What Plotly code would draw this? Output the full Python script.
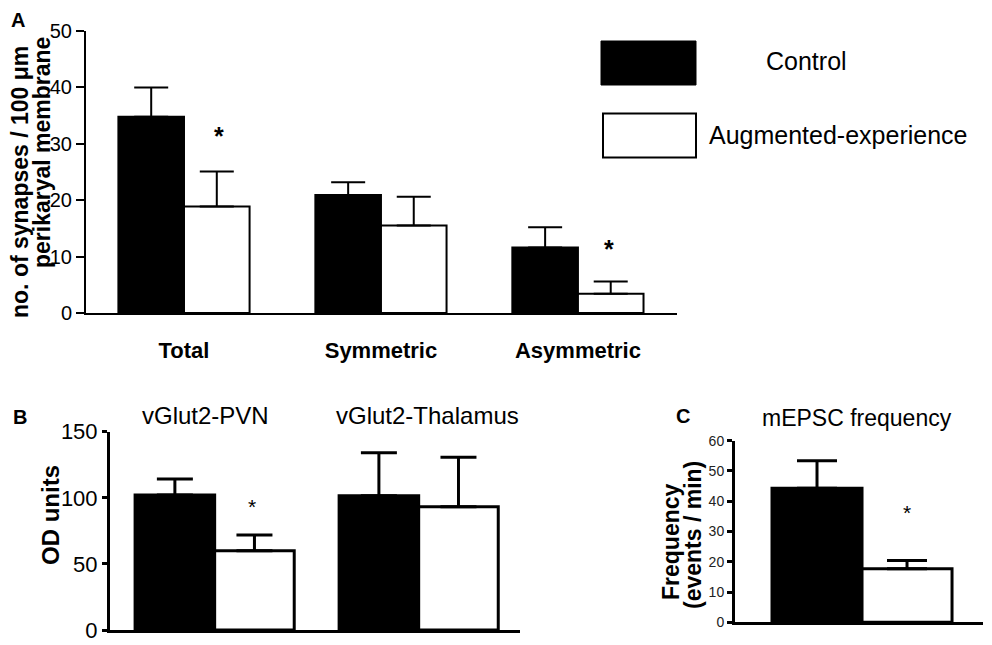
import plotly.graph_objects as go

# ---------------- data ----------------
cats_a = ["Total", "Symmetric", "Asymmetric"]
ctrl_a = [34.8, 20.9, 11.6]
ctrl_a_err = [5.2, 2.3, 3.6]
aug_a = [18.9, 15.5, 3.4]
aug_a_err = [6.2, 5.1, 2.2]

cats_b = ["vGlut2-PVN", "vGlut2-Thalamus"]
ctrl_b = [102.1, 101.6]
ctrl_b_err = [12.1, 32.5]
aug_b = [60.0, 93.3]
aug_b_err = [11.9, 37.3]

cats_c = ["Control", "Augmented-experience"]
ctrl_c = [44.3]
ctrl_c_err = [9.1]
aug_c = [17.7]
aug_c_err = [2.7]

ticks_a = [0, 10, 20, 30, 40, 50]
ticks_b = [0, 50, 100, 150]
ticks_c = [0, 10, 20, 30, 40, 50, 60]

W, H = 992, 645
FONT = "Arial, Liberation Sans, sans-serif"


def px(x):
    return x / W


def py(y):
    return 1 - y / H


fig = go.Figure()


def add_bar(y, x, err, color, xa, ya, offset, width, thick, cap, lw):
    fig.add_trace(go.Bar(
        x=x, y=y, xaxis=xa, yaxis=ya,
        offset=offset, width=width,
        marker=dict(color=color, line=dict(color="black", width=lw)),
        error_y=dict(type="data", symmetric=False, array=err,
                     arrayminus=[0] * len(err), color="black",
                     thickness=thick, width=cap),
        showlegend=False, hoverinfo="skip",
    ))


# Panel A
add_bar(ctrl_a, cats_a, ctrl_a_err, "black", "x", "y", -0.333, 0.333, 2, 17, 2)
add_bar(aug_a, cats_a, aug_a_err, "white", "x", "y", 0.0, 0.333, 2, 17, 2)
# Panel B
add_bar(ctrl_b, cats_b, ctrl_b_err, "black", "x2", "y2", -0.39, 0.39, 3, 18, 3)
add_bar(aug_b, cats_b, aug_b_err, "white", "x2", "y2", 0.0, 0.39, 3, 18, 3)
# Panel C
add_bar(ctrl_c, cats_c[:1], ctrl_c_err, "black", "x3", "y3", -0.5, 1.0, 3, 20, 3)
add_bar(aug_c, cats_c[1:], aug_c_err, "white", "x3", "y3", -0.5, 1.0, 3, 20, 3)


def yax(domain, rng, ticks, size, lw, tlen, color="black"):
    return dict(domain=domain, range=rng, tickvals=ticks, showgrid=False,
                zeroline=False, showline=True, linecolor="black", linewidth=lw,
                ticks="outside", ticklen=tlen, tickwidth=lw, tickcolor="black",
                tickfont=dict(family=FONT, size=size, color=color),
                automargin=False, fixedrange=True)


def xax(domain, rng, cats, anchor, lw, showlabels=False):
    return dict(domain=domain, range=rng, type="category",
                categoryorder="array", categoryarray=cats,
                anchor=anchor, showgrid=False, zeroline=False,
                showline=True, linecolor="black", linewidth=lw, ticks="",
                showticklabels=showlabels, automargin=False, fixedrange=True)


fig.update_layout(
    width=W, height=H,
    margin=dict(l=0, r=0, t=0, b=0, pad=0, autoexpand=False),
    paper_bgcolor="white", plot_bgcolor="white", barmode="overlay",
    font=dict(family=FONT, color="black"),
    xaxis=dict(**xax([px(86), px(677)], [-0.4975, 2.503], cats_a, "y", 2, True),
               tickfont=dict(family=FONT, size=22, color="black", weight="bold"),
               ticklabelstandoff=17),
    yaxis=yax([py(313), py(31)], [0, 50], ticks_a, 20, 2, 8),
    xaxis2=xax([px(110), px(520)], [-0.513, 1.4966], cats_b, "y2", 3),
    yaxis2=dict(**yax([py(630), py(431.7)], [0, 150], ticks_b, 22, 3, 5), anchor="x2"),
    xaxis3=xax([px(735), px(983)], [-0.911, 1.844], cats_c, "y3", 3),
    yaxis3=dict(**yax([py(622.3), py(440.7)], [0, 60], ticks_c, 14, 3, 5, "#222"), anchor="x3"),
)

ann = []


def text(x, y, s, size, bold=False, angle=0, xanchor="center", **kw):
    ann.append(dict(x=x, y=y, xref=kw.pop("xref", "paper"), yref=kw.pop("yref", "paper"),
                    text=s, showarrow=False, textangle=angle, xanchor=xanchor,
                    yanchor="middle",
                    font=dict(family=FONT, size=size, color="black",
                              weight="bold" if bold else "normal"), **kw))


# panel letters
text(px(18), py(20), "A", 20, True)
text(px(20), py(417), "B", 20, True)
text(px(683), py(416), "C", 20, True)

# y titles
text(px(20), py(182), "no. of synapses / 100 \u03bcm", 23, True, -90)
text(px(42), py(153), "perikaryal membrane", 23, True, -90)
text(px(50), py(515), "OD units", 24, True, -90)
text(px(671), py(542), "Frequency", 23, True, -90)
text(px(693), py(535), "(events / min)", 23, True, -90)

# panel titles
text(cats_b[0], py(415), cats_b[0], 24, xref="x2", xshift=-9)
text(cats_b[1], py(415), cats_b[1], 24, xref="x2", xshift=9)
text(px(857), py(418), "mEPSC frequency", 23)

# significance asterisks
text(cats_a[0], 31.4, "*", 25, True, xref="x", yref="y", xshift=35)
text(cats_a[2], 11.4, "*", 25, True, xref="x", yref="y", xshift=31)
text(cats_b[0], 93.8, "*", 21, xref="x2", yref="y2", xshift=37)
text(cats_c[1], 36.3, "*", 21, xref="x3", yref="y3")

# legend
text(px(806), py(61), "Control", 25)
text(px(707), py(135), "Augmented-experience", 25, xanchor="left")

fig.update_layout(annotations=ann, shapes=[
    dict(type="rect", xref="paper", yref="paper", x0=px(601), x1=px(696),
         y0=py(85), y1=py(41), fillcolor="black", line=dict(color="black", width=1)),
    dict(type="rect", xref="paper", yref="paper", x0=px(603), x1=px(696),
         y0=py(157.5), y1=py(113.5), fillcolor="white", line=dict(color="black", width=2)),
])

fig.write_html("out.html", config={"displayModeBar": False},
               post_script="document.body.style.margin='0';document.body.style.padding='0';")
